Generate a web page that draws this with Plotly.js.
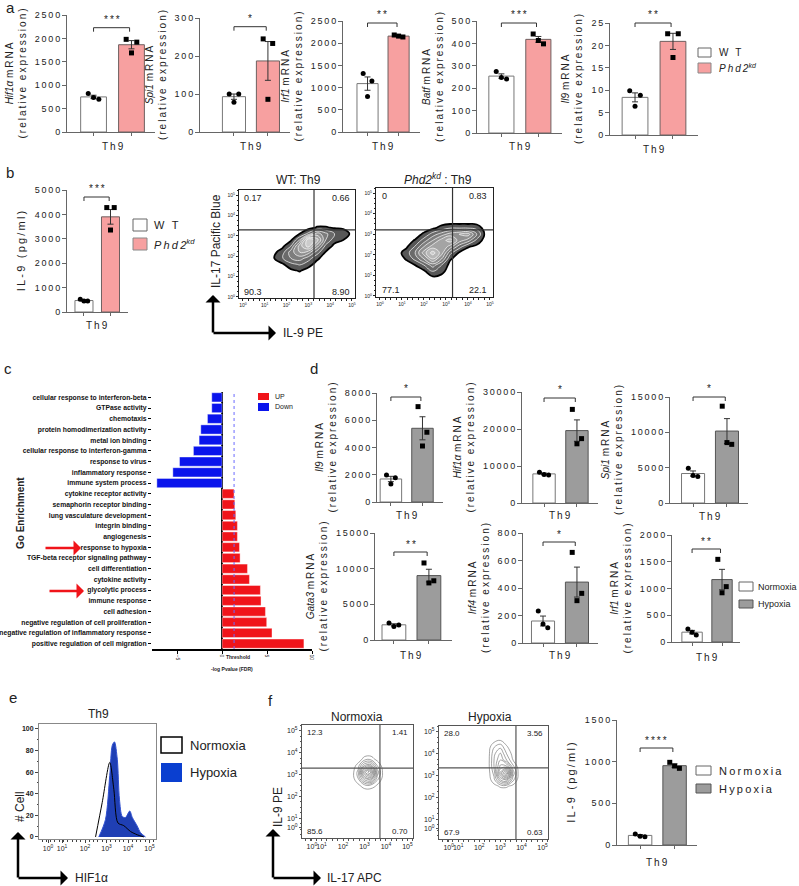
<!DOCTYPE html>
<html><head><meta charset="utf-8">
<script src="https://cdn.plot.ly/plotly-3.0.1.min.js"></script>
<style>body{margin:0;background:#fff}#chart{width:799px;height:886px}</style>
</head><body><div id="chart"></div>
<script>
// ================= DATA =================
// Panel a
const aGenes = ['Hif1α','Spi1','Irf1','Batf','Il9'];
const aMeanWT = [750, 93, 1090, 254, 8.4];
const aMeanKD = [1865, 187, 2160, 418, 20.9];
const aSemWT = [36, 7, 150, 10, 1.0];
const aSemKD = [88, 51, 13, 13, 1.8];
const aPtsWT = [[820,700,735],[100,100,78],[1320,1150,800],[274,241,248],[9.9,8.9,6.4]];
const aPtsKD = [[1980,1920,1690],[245,233,86],[2185,2140,2160],[442,398,413],[22.6,22.6,17.3]];
const aStars = ['***','*','**','***','**'];
const aTicks = [[0,500,1000,1500,2000,2500],[0,100,200,300],[0,500,1000,1500,2000,2500],[0,100,200,300,400,500],[0,5,10,15,20,25]];
const groupsA = ['W T', 'Phd2'];

// Panel b
const bMean = [470, 3900];
const bSem = [23, 300];
const bPtsWT = [520, 450, 450];
const bPtsKD = [4280, 4280, 3360];
const bTicks = [0,1000,2000,3000,4000,5000];
const bStars = '***';
const bFlowTitles = ['WT: Th9', '<i>Phd2</i><sup><i>kd</i></sup> : Th9'];
const bQuad = [['0.17','0.66','90.3','8.90'],['0','0.83','77.1','22.1']];
const bGateX = [3.26, 3.30];
const bGateY = [3.29, 3.21];
const bWT_x = [1.0,1.4,1.8,2.2,2.6,3.0,3.4,3.8,4.2,4.6,5.0];
const bWT_y = [1.0,1.3,1.6,1.9,2.2,2.5,2.8,3.1,3.4,3.7];
const bWT_z = [
  [0,0,0,0,0,0,0,0,0,0,0],
  [0,0,0,0.3,0.6,0.1,0,0,0,0,0],
  [0,0,0.3,1.2,1.6,0.9,0.1,0,0,0,0],
  [0,0.4,1.4,2.5,3.0,2.0,0.7,0,0,0,0],
  [0,0.2,1.0,3.0,4.5,4.0,2.0,0.4,0,0,0],
  [0,0,0.2,1.5,5.0,7.0,4.0,1.2,0.2,0,0],
  [0,0,0,0.3,2.5,7.5,6.0,2.5,0.9,0.5,0],
  [0,0,0,0,0.5,1.8,4.0,2.8,1.5,1.2,0.2],
  [0,0,0,0,0,0.1,0.6,0.6,0.4,0.3,0],
  [0,0,0,0,0,0,0,0,0,0,0]];
const bKD_x = [0.8,1.2,1.6,2.0,2.4,2.8,3.2,3.6,4.0,4.4,4.8];
const bKD_y = [0.6,0.9,1.2,1.5,1.8,2.1,2.4,2.7,3.0,3.3,3.6];
const bKD_z = [
  [0,0,0,0,0,0,0,0,0,0,0],
  [0,0,0,0,0.3,0.2,0,0,0,0,0],
  [0,0,0,0.3,1.5,0.8,0,0,0,0,0],
  [0,0,0.5,1.5,3,1.5,0.1,0,0,0,0],
  [0,0.6,1.8,3.5,5.5,3.5,0.6,0,0,0,0],
  [0.1,1.0,2.5,5,7,5,1.8,0.4,0,0,0],
  [0,0.3,1.6,3.5,5,5.5,4,2,0.6,0.2,0],
  [0,0,0.6,2,3.5,5,6,4,3,1.2,0],
  [0,0,0,0.7,2,3,4,4.5,5,2.5,0.2],
  [0,0,0,0,0.3,0.9,1.5,1.5,1.5,1.2,0],
  [0,0,0,0,0,0,0,0,0,0,0]];

// Panel c
const goDownTerms = ['cellular response to interferon-beta','GTPase activity','chemotaxis','protein homodimerization activity','metal ion binding','cellular response to interferon-gamma','response to virus','inflammatory response','immune system process'];
const goDownVals = [-1.15,-1.15,-1.63,-2.37,-2.56,-3.19,-4.74,-5.48,-7.26];
const goUpTerms = ['cytokine receptor activity','semaphorin receptor binding','lung vasculature development','integrin binding','angiogenesis','response to hypoxia','TGF-beta receptor signaling pathway','cell differentiation','cytokine activity','glycolytic process','immune response','cell adhesion','negative regulation of cell proliferation','negative regulation of inflammatory response','positive regulation of cell migration'];
const goUpVals = [1.33,1.41,1.52,1.70,1.70,1.93,2.00,2.82,3.04,4.26,4.33,4.82,4.96,5.55,9.10];
const goThreshold = 1.33;
const goTicks = [-5,0,5,10];

// Panel d
const dGenes = ['Il9','Hif1α','Spi1','Gata3','Irf4','Irf1'];
const dMeanN = [1690, 7870, 4170, 2130, 160, 184];
const dMeanH = [5410, 19570, 10180, 9030, 443, 1167];
const dSemN = [195, 217, 366, 145, 36, 33];
const dSemH = [846, 2890, 1760, 887, 109, 191];
const dPtsN = [[1980,1780,1320],[8300,7600,7700],[4900,3740,3880],[2400,2100,1900],[233,111,138],[243,130,180]];
const dPtsH = [[7000,5120,4110],[25300,17400,16000],[13700,8300,8550],[10800,8300,8000],[659,361,308],[1545,1035,920]];
const dStars = ['*','*','*','**','*','**'];
const dTicks = [[0,2000,4000,6000,8000],[0,10000,20000,30000],[0,5000,10000,15000],[0,5000,10000,15000],[0,200,400,600,800],[0,500,1000,1500,2000]];

// Panel e
const eHypX = [2.64,2.95,3.15,3.27,3.37,3.5,3.6,3.73,3.88,4.08,4.2,4.43,4.58,4.81];
const eHypY = [0,16,57,85,88,72,35,19,18,24,18,10,4,0];
const eNorX = [2.49,2.8,3.15,3.34,3.53,3.8,4.12,4.43,4.73];
const eNorY = [0,32,69,44,13,10.5,5,2,0];
const eTickPos = [0.28,0.93,2,3,4,5];
const eTickText = ['10<sup>0</sup>','10<sup>1</sup>','10<sup>2</sup>','10<sup>3</sup>','10<sup>4</sup>','10<sup>5</sup>'];
const eYTicks = [0,20,40,60,80,100];

// Panel f
const fQuad = [['12.3','1.41','85.6','0.70'],['28.0','3.56','67.9','0.63']];
const fGateX = [3.72, 3.74];
const fGateY = [3.29, 3.34];
const fTickPos = [0.55,1,2,3,4,5];
const fN_x = [2.4,2.7,3.0,3.3,3.6,3.9];
const fN_y = [2.2,2.5,2.8,3.1,3.4,3.7,4.0];
const fN_z = [
  [0,0,0,0,0,0],
  [0,0.3,1,1,0.4,0],
  [0,1.2,4,5,1.5,0],
  [0,1.5,7,9,2.5,0],
  [0,0.8,3.5,4,1.2,0],
  [0,0,0.8,0.9,0.2,0],
  [0,0,0,0,0,0]];
const fH_x = [2.4,2.7,3.0,3.3,3.6,3.9];
const fH_y = [2.2,2.5,2.8,3.1,3.4,3.7,4.0,4.3,4.6,4.9];
const fH_z = [
  [0,0,0,0,0,0],
  [0,0.2,0.6,0.6,0.2,0],
  [0,1,3.5,4.5,1.5,0],
  [0,1.5,6,9,2.5,0],
  [0,2,4.5,4.5,1.5,0],
  [0,2,3.5,2,0.5,0],
  [0,1.8,2.8,1.2,0.2,0],
  [0,1.2,1.8,0.6,0,0],
  [0,0.2,0.5,0.1,0,0],
  [0,0,0,0,0,0]];
const fMean = [115, 952];
const fSem = [10, 21];
const fPtsN = [132, 100, 105];
const fPtsH = [992, 920, 948];
const fTicks = [0,500,1000,1500];

// ================= HELPERS =================
const W = 799, H = 886;
const fx = p => p / W, fy = p => 1 - p / H;
const FONT = 'Arial, "Liberation Sans", Helvetica, sans-serif';
const TXT = '#222';
const sp = s => s.split('').join('\u2009');
const JIT = [-0.14, 0.14, 0.0];
const traces = [], shapes = [], annotations = [];
const layout = {width: W, height: H, margin: {l:0,r:0,t:0,b:0}, paper_bgcolor:'#fff', plot_bgcolor:'rgba(0,0,0,0)',
  showlegend:false, font:{family:FONT, color:TXT}, shapes, annotations};
let nAx = 0;
function addAxes(l, r, t, b, xo, yo) {
  nAx++;
  const s = nAx === 1 ? '' : String(nAx);
  layout['xaxis' + s] = Object.assign({domain:[fx(l), fx(r)], anchor:'y' + s, showgrid:false, zeroline:false}, xo);
  layout['yaxis' + s] = Object.assign({domain:[fy(b), fy(t)], anchor:'x' + s, showgrid:false, zeroline:false}, yo);
  return {x:'x' + s, y:'y' + s};
}
function txt(x, y, text, size, o) {
  annotations.push(Object.assign({xref:'paper', yref:'paper', x:fx(x), y:fy(y), text, showarrow:false,
    font:{size, color:TXT, family:FONT}, xanchor:'center', yanchor:'middle'}, o || {}));
}
function box(x0, x1, y0, y1, fill, edge, lw) {
  shapes.push({type:'rect', xref:'paper', yref:'paper', x0:fx(x0), x1:fx(x1), y0:fy(y1), y1:fy(y0),
    fillcolor:fill, line:{color:edge, width:lw === undefined ? 1 : lw}});
}
function arrow(hx, hy, tx, ty, color, w) {
  annotations.push({xref:'paper', yref:'paper', x:fx(hx), y:fy(hy), ax:tx - hx, ay:ty - hy, axref:'pixel', ayref:'pixel',
    text:'', showarrow:true, arrowhead:1, arrowsize:1, arrowwidth:w, arrowcolor:color});
}
function barChart(o) {
  const ax = addAxes(o.l, o.r, o.t, o.b,
    {range:o.xr, tickvals:[0,1], showticklabels:false, ticks:'outside', ticklen:3, tickcolor:'#666', showline:true, linecolor:'#666', linewidth:1, fixedrange:true},
    {range:[0, o.ymax], tickvals:o.yt, ticktext:o.yt.map(v => sp(String(v))), ticks:'outside', ticklen:4, tickcolor:'#666',
     showline:true, linecolor:'#666', linewidth:1, tickfont:{size:9, color:TXT}, title:{text:o.title, font:{size:o.tsize || 10, color:TXT}, standoff:6}});
  traces.push({type:'bar', xaxis:ax.x, yaxis:ax.y, x:[0,1], y:o.means, width:0.68,
    marker:{color:['#ffffff', o.fill], line:{color:['#777', o.edge], width:1}},
    error_y:{type:'data', array:o.sems, color:'#333', thickness:1, width:3}, hoverinfo:'skip'});
  traces.push({type:'scatter', mode:'markers', xaxis:ax.x, yaxis:ax.y, x:o.p0.map((v, i) => JIT[i]), y:o.p0,
    marker:{symbol:'circle', size:5, color:'#000'}, cliponaxis:false, hoverinfo:'skip'});
  traces.push({type:'scatter', mode:'markers', xaxis:ax.x, yaxis:ax.y, x:o.p1.map((v, i) => 1 + JIT[i]), y:o.p1,
    marker:{symbol:'square', size:5, color:'#000'}, cliponaxis:false, hoverinfo:'skip'});
  const yb = fy(o.by), tk = 4 / H;
  const ln = (x0, y0, x1, y1) => shapes.push({type:'line', xref:ax.x, yref:'paper', x0, y0, x1, y1, line:{color:'#333', width:1}});
  ln(0, yb, 0.95, yb); ln(0, yb, 0, yb - tk); ln(0.95, yb, 0.95, yb - tk);
  annotations.push({xref:ax.x, yref:'paper', x:0.475, y:yb + 0.5 / H, text:sp(o.stars), showarrow:false,
    font:{size:10, color:TXT}, yanchor:'bottom'});
  annotations.push({xref:ax.x, yref:'paper', x:0.5, y:fy(o.ty), text:sp('Th9'), showarrow:false,
    font:{size:10, color:TXT}, yanchor:'middle'});
  return ax;
}
const KD_FILL = '#F7A0A0', KD_EDGE = '#6e6060';
const HY_FILL = '#9C9C9C', HY_EDGE = '#555';
const geneTitle = g => '<i>' + g + '</i>\u00a0' + sp('mRNA') + '<br>' + sp('(relative expression)');

// ================= PANEL a =================
const aBoxes = [
  {l:67, r:155, t:15, b:132, xr:[-0.70,1.62], by:27.7, ty:146},
  {l:200, r:290, t:18, b:132, xr:[-1.0,1.65], by:26.7, ty:147},
  {l:343, r:420, t:21, b:132, xr:[-0.79,1.69], by:23, ty:147},
  {l:477, r:562, t:21, b:133, xr:[-0.66,1.64], by:23, ty:146},
  {l:610, r:698, t:23, b:135, xr:[-0.66,1.66], by:23, ty:149}];
aGenes.forEach((g, i) => {
  const bx = aBoxes[i];
  barChart(Object.assign({}, bx, {ymax:aTicks[i][aTicks[i].length - 1], yt:aTicks[i], title:geneTitle(g),
    means:[aMeanWT[i], aMeanKD[i]], sems:[aSemWT[i], aSemKD[i]], p0:aPtsWT[i], p1:aPtsKD[i],
    fill:KD_FILL, edge:KD_EDGE, stars:aStars[i]}));
});
box(698, 711, 48, 57, '#fff', '#666');
box(698, 711, 63, 73, KD_FILL, '#888');
txt(717, 52.5, sp(groupsA[0]), 10, {xanchor:'left'});
txt(717, 68, '<i>' + sp(groupsA[1]) + '</i><sup><i>kd</i></sup>', 10, {xanchor:'left'});

// ================= PANEL b =================
barChart({l:67, r:128, t:190, b:312, xr:[-0.64,1.66], by:197, ty:325, ymax:5000, yt:bTicks,
  title:sp('IL-9 (pg/ml)'), tsize:11, means:bMean, sems:bSem, p0:bPtsWT, p1:bPtsKD, fill:KD_FILL, edge:KD_EDGE, stars:bStars});
box(133, 147, 219, 231, '#fff', '#666');
box(133, 147, 238, 250, KD_FILL, '#888');
txt(152, 225, sp(groupsA[0]), 11, {xanchor:'left'});
txt(152, 244, '<i>' + sp(groupsA[1]) + '</i><sup><i>kd</i></sup>', 11, {xanchor:'left'});

const flowTicks = [0,1,2,3,4,5];
const flowTickText = flowTicks.map(k => '10<sup>' + k + '</sup>');
function flowAxes(l, r, t, b, xr, yr, tpos, fsize, lc) {
  const common = {tickvals:tpos, ticktext:flowTickText, ticks:'outside', ticklen:2, tickcolor:lc, showline:true, mirror:true, tickangle:0,
    linecolor:lc, linewidth:1, tickfont:{size:fsize, color:TXT}, minor:{ticks:'outside', ticklen:1.5, dtick:0.25, tickcolor:lc}};
  return addAxes(l, r, t, b, Object.assign({range:xr}, common), Object.assign({range:yr}, common));
}
function zebra(ax, xs, ys, z) {
  traces.push({type:'contour', xaxis:ax.x, yaxis:ax.y, x:xs, y:ys, z:z, autocontour:false,
    contours:{start:0.5, end:8.5, size:1, coloring:'fill', showlines:true},
    line:{color:'#fff', width:0.7, smoothing:1.2},
    colorscale:[[0,'rgba(255,255,255,0)'],[0.08,'rgba(255,255,255,0)'],[0.1,'#555555'],[0.5,'#9a9a9a'],[1,'#f2f2f2']],
    showscale:false, hoverinfo:'skip'});
  traces.push({type:'contour', xaxis:ax.x, yaxis:ax.y, x:xs, y:ys, z:z, autocontour:false,
    contours:{start:0.5, end:0.5, size:1, coloring:'none'}, line:{color:'#000', width:1.8, smoothing:1.2},
    showscale:false, hoverinfo:'skip'});
}
function gates(ax, gx, gy, color) {
  shapes.push({type:'line', xref:ax.x, yref:ax.y + ' domain', x0:gx, x1:gx, y0:0, y1:1, line:{color, width:1.2}, layer:'above'});
  shapes.push({type:'line', xref:ax.x + ' domain', yref:ax.y, x0:0, x1:1, y0:gy, y1:gy, line:{color, width:1.2}, layer:'above'});
}
function quads(ax, q, size) {
  const pos = [[0.03,0.93,'left'],[0.97,0.93,'right'],[0.03,0.06,'left'],[0.97,0.06,'right']];
  q.forEach((t, i) => annotations.push({xref:ax.x + ' domain', yref:ax.y + ' domain', x:pos[i][0], y:pos[i][1], xanchor:pos[i][2],
    yanchor:'middle', text:t, showarrow:false, font:{size, color:TXT}}));
}
const bAx1 = flowAxes(239, 355, 190, 298, [-0.18,5.14], [-0.05,5.25], flowTicks, 5, '#222');
zebra(bAx1, bWT_x, bWT_y, bWT_z);
gates(bAx1, bGateX[0], bGateY[0], '#333');
quads(bAx1, bQuad[0], 9);
const bAx2 = flowAxes(376, 493, 188, 297, [-0.18,5.14], [-0.05,5.25], flowTicks, 5, '#222');
zebra(bAx2, bKD_x, bKD_y, bKD_z);
gates(bAx2, bGateX[1], bGateY[1], '#333');
quads(bAx2, bQuad[1], 9);
txt(298, 180, bFlowTitles[0], 12);
txt(438, 179, bFlowTitles[1], 12);
txt(216, 241, 'IL-17 Pacific Blue', 12, {textangle:-90});
txt(281, 333, 'IL-9 PE', 12, {xanchor:'left'});
arrow(213, 295, 213, 334, '#000', 2.5);
arrow(276, 333, 212, 333, '#000', 2.5);

// ================= PANEL c =================
const goAx = addAxes(152, 312, 392, 649,
  {range:[-7.8, 10], tickvals:goTicks, ticks:'outside', ticklen:3, tickcolor:'#000', tickangle:90, tickfont:{size:5, color:TXT},
   showline:true, linecolor:'#000', linewidth:1.5, zeroline:true, zerolinecolor:'#000', zerolinewidth:1.5},
  {type:'category', categoryorder:'array', categoryarray:goDownTerms.concat(goUpTerms), range:[23.5, -0.5],
   ticks:'outside', ticklen:3, tickcolor:'#000', tickfont:{size:6.8, color:'#111', weight:700}, showline:false});
traces.push({type:'bar', orientation:'h', xaxis:goAx.x, yaxis:goAx.y, y:goDownTerms, x:goDownVals, width:0.86,
  marker:{color:'#0A14EC', line:{color:'#fff', width:0.4}}, hoverinfo:'skip'});
traces.push({type:'bar', orientation:'h', xaxis:goAx.x, yaxis:goAx.y, y:goUpTerms, x:goUpVals, width:0.86,
  marker:{color:'#F0141A', line:{color:'#fff', width:0.4}}, hoverinfo:'skip'});
layout.barmode = 'overlay';
shapes.push({type:'line', xref:goAx.x, yref:goAx.y + ' domain', x0:goThreshold, x1:goThreshold, y0:0, y1:1,
  line:{color:'#6a6aff', width:1, dash:'dot'}, layer:'above'});
txt(224, 657, 'Threshold', 5, {xanchor:'left', font:{size:5, color:TXT, weight:700}});
txt(232, 669, '-log Pvalue (FDR)', 5, {font:{size:5, color:TXT, weight:700}});
txt(20, 513, 'Go Enrichment', 10, {textangle:-90, font:{size:10, color:TXT, weight:700}});
box(258, 269, 393, 400, '#F0141A', '#F0141A', 0);
box(258, 269, 403, 411, '#0A14EC', '#0A14EC', 0);
txt(273, 396.5, 'UP', 7, {xanchor:'left'});
txt(273, 407, 'Down', 7, {xanchor:'left'});
arrow(81, 548, 44, 548, '#F0141A', 2.5);
arrow(84, 591, 48, 591, '#F0141A', 2.5);

// ================= PANEL d =================
const dBoxes = [
  {l:377, r:443, t:393, b:502, xr:[-0.44,1.65], by:397, ty:515},
  {l:522, r:598, t:392, b:503, xr:[-0.67,1.64], by:398, ty:515},
  {l:670, r:748, t:397, b:503, xr:[-0.68,1.62], by:397, ty:516},
  {l:375, r:452, t:533, b:640, xr:[-0.54,1.66], by:552, ty:655},
  {l:523, r:598, t:533, b:643, xr:[-0.59,1.62], by:542, ty:655},
  {l:672, r:740, t:535, b:642, xr:[-0.67,1.60], by:549, ty:657}];
dGenes.forEach((g, i) => {
  const bx = dBoxes[i];
  barChart(Object.assign({}, bx, {ymax:dTicks[i][dTicks[i].length - 1], yt:dTicks[i], title:geneTitle(g),
    means:[dMeanN[i], dMeanH[i]], sems:[dSemN[i], dSemH[i]], p0:dPtsN[i], p1:dPtsH[i],
    fill:HY_FILL, edge:HY_EDGE, stars:dStars[i]}));
});
box(739, 753, 582, 591, '#fff', '#666');
box(739, 753, 600, 608, HY_FILL, '#555');
txt(756, 586.5, 'Normoxia', 9, {xanchor:'left'});
txt(756, 604, 'Hypoxia', 9, {xanchor:'left'});

// ================= PANEL e =================
const eAx = addAxes(39, 156, 724, 839,
  {range:[-0.14,5.3], tickvals:eTickPos, ticktext:eTickText, ticks:'outside', ticklen:3, tickcolor:'#444', showline:true, mirror:true, tickangle:0,
   linecolor:'#888', linewidth:1, tickfont:{size:7, color:TXT}, minor:{ticks:'outside', ticklen:1.5, dtick:0.2, tickcolor:'#444'}},
  {range:[-1.9,104.6], tickvals:eYTicks, ticks:'outside', ticklen:3, tickcolor:'#444', showline:true, mirror:true,
   linecolor:'#888', linewidth:1, tickfont:{size:7, color:TXT, weight:700}, minor:{ticks:'outside', ticklen:1.5, dtick:10, tickcolor:'#444'}});
traces.push({type:'scatter', mode:'lines', xaxis:eAx.x, yaxis:eAx.y, x:eHypX, y:eHypY, fill:'tozeroy',
  fillcolor:'#1F3FB4', line:{color:'#3050D0', width:1, shape:'spline', smoothing:0.8}, hoverinfo:'skip'});
traces.push({type:'scatter', mode:'lines', xaxis:eAx.x, yaxis:eAx.y, x:eNorX, y:eNorY,
  line:{color:'#000', width:1, shape:'spline', smoothing:0.8}, hoverinfo:'skip'});
txt(98, 714, 'Th9', 12);
box(161, 182, 737, 753, '#fff', '#000', 1.5);
box(161, 182, 763, 782, '#0A3FD0', '#0A3FD0', 0);
txt(188, 745, 'Normoxia', 13, {xanchor:'left'});
txt(188, 772.5, 'Hypoxia', 13, {xanchor:'left'});
txt(20, 807, '# Cell', 12, {textangle:-90});
txt(73, 878, 'HIF1α', 12, {xanchor:'left'});
arrow(18, 832, 18, 879, '#000', 2.5);
arrow(68, 878, 17, 878, '#000', 2.5);

// ================= PANEL f =================
function lineContour(ax, xs, ys, z) {
  traces.push({type:'contour', xaxis:ax.x, yaxis:ax.y, x:xs, y:ys, z:z, autocontour:false,
    contours:{start:0.5, end:9, size:0.75, coloring:'none'}, line:{color:'#666', width:0.6, smoothing:1.2},
    showscale:false, hoverinfo:'skip'});
}
const fAx1 = flowAxes(302, 413, 725, 838, [0.09,5.26], [0.09,5.26], fTickPos, 7, '#555');
lineContour(fAx1, fN_x, fN_y, fN_z);
gates(fAx1, fGateX[0], fGateY[0], '#555');
quads(fAx1, fQuad[0], 8);
const fAx2 = flowAxes(439, 548, 726, 839, [0.09,5.26], [0.09,5.26], fTickPos, 7, '#555');
lineContour(fAx2, fH_x, fH_y, fH_z);
gates(fAx2, fGateX[1], fGateY[1], '#555');
quads(fAx2, fQuad[1], 8);
txt(357, 717, 'Normoxia', 12);
txt(490, 717, 'Hypoxia', 12);
txt(278, 807, 'IL-9 PE', 12, {textangle:-90});
txt(325, 878, 'IL-17 APC', 12, {xanchor:'left'});
arrow(273, 829, 273, 879, '#000', 2.5);
arrow(321, 878, 272, 878, '#000', 2.5);
barChart({l:617, r:697, t:720, b:845, xr:[-0.67,1.65], by:748, ty:862, ymax:1500, yt:fTicks,
  title:sp('IL-9 (pg/ml)'), tsize:11, means:fMean, sems:fSem, p0:fPtsN, p1:fPtsH, fill:HY_FILL, edge:HY_EDGE, stars:'****'});
box(696, 711, 766, 775, '#fff', '#666');
box(696, 711, 784, 793, HY_FILL, '#555');
txt(717, 770.5, sp('Normoxia'), 11, {xanchor:'left'});
txt(717, 788.5, sp('Hypoxia'), 11, {xanchor:'left'});

// ================= PANEL LETTERS =================
txt(4, 8, 'a', 15, {xanchor:'left'});
txt(4, 172, 'b', 15, {xanchor:'left'});
txt(2, 368, 'c', 15, {xanchor:'left'});
txt(308, 368, 'd', 15, {xanchor:'left'});
txt(7, 697, 'e', 15, {xanchor:'left'});
txt(266, 700, 'f', 15, {xanchor:'left'});

Plotly.newPlot('chart', traces, layout, {displayModeBar:false, staticPlot:true});
</script>
</body></html>
